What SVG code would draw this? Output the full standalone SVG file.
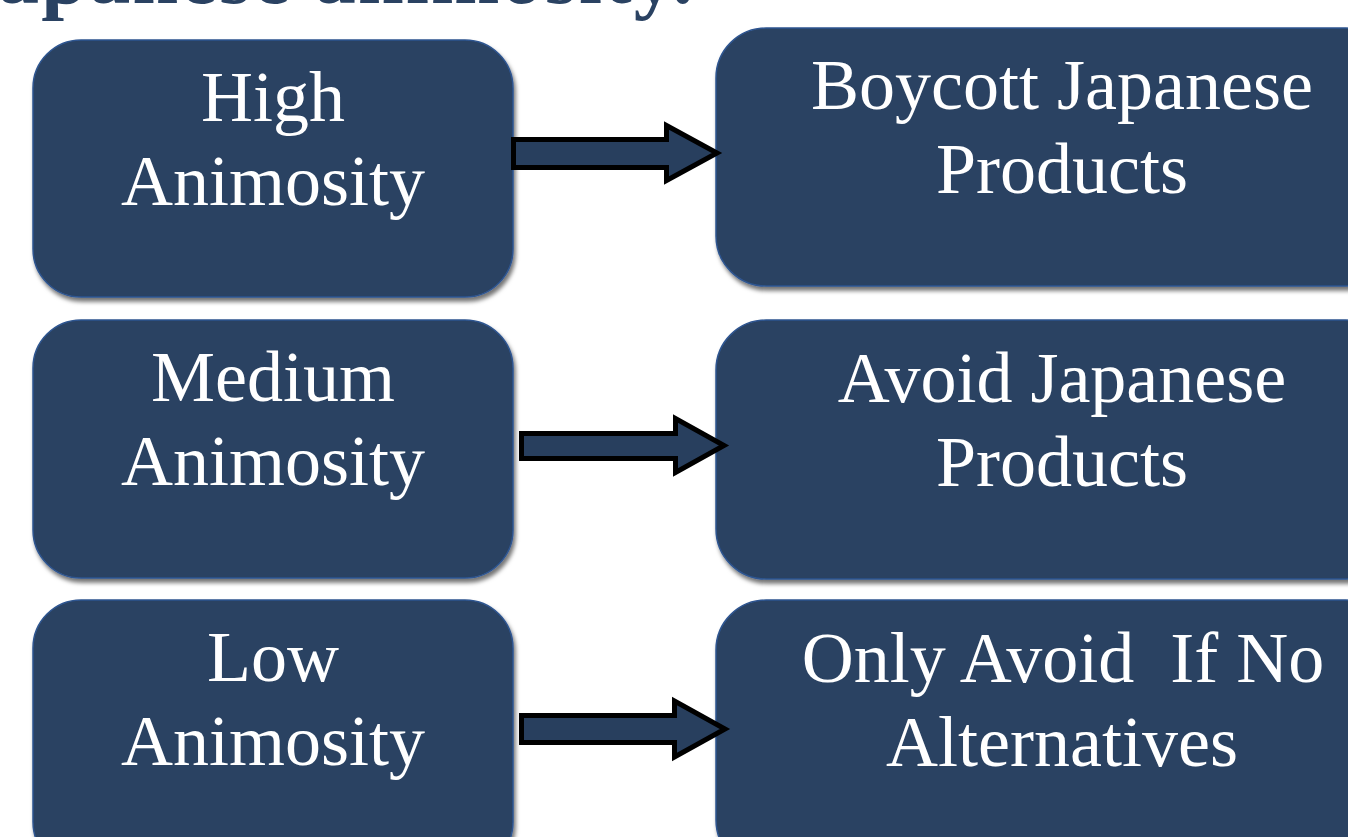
<svg xmlns="http://www.w3.org/2000/svg" width="1348" height="837" viewBox="0 0 1348 837">
<defs>
<filter id="sh" x="-5%" y="-5%" width="112%" height="115%">
<feDropShadow dx="2" dy="4" stdDeviation="2" flood-color="#000" flood-opacity="0.55"/>
</filter>
<style>
.box{fill:#2a4262;stroke:#2e5590;stroke-width:1.5;filter:url(#sh)}
.t{font-family:"Liberation Serif","DejaVu Serif",serif;font-size:72px;fill:#ffffff;text-anchor:middle;white-space:pre}
.title{font-family:"Liberation Serif","DejaVu Serif",serif;font-size:82px;font-weight:bold;fill:#2a4262}
.arr{fill:#283f5e;stroke:#000;stroke-width:5;stroke-linejoin:miter}
</style>
</defs>
<rect width="1348" height="837" fill="#ffffff"/>
<text class="title" x="-2" y="3" textLength="695" lengthAdjust="spacing">apanese animosity.</text>

<g id="high">
<rect class="box" x="33" y="40" width="480" height="257" rx="48"/>
<text class="t" x="273" y="121">High</text>
<text class="t" x="273" y="205">Animosity</text>
</g>
<g id="medium">
<rect class="box" x="33" y="320" width="480" height="258" rx="48"/>
<text class="t" x="273" y="401">Medium</text>
<text class="t" x="273" y="485">Animosity</text>
</g>
<g id="low">
<rect class="box" x="33" y="600" width="480" height="270" rx="48"/>
<text class="t" x="273" y="681">Low</text>
<text class="t" x="273" y="765">Animosity</text>
</g>

<g id="boycott">
<rect class="box" x="716" y="28" width="680" height="258" rx="50"/>
<text class="t" x="1062" y="109">Boycott Japanese</text>
<text class="t" x="1062" y="193">Products</text>
</g>
<g id="avoid">
<rect class="box" x="716" y="320" width="680" height="259" rx="50"/>
<text class="t" x="1062" y="402">Avoid Japanese</text>
<text class="t" x="1062" y="486">Products</text>
</g>
<g id="only">
<rect class="box" x="716" y="600" width="680" height="270" rx="50"/>
<text class="t" x="1063" y="682">Only Avoid  If No</text>
<text class="t" x="1062" y="766">Alternatives</text>
</g>

<g id="connectors">
<path class="arr" d="M513.5,139.5 H666.5 V125.5 L717,153 L666.5,180.5 V167.5 H513.5 Z"/>
<path class="arr" d="M521.5,433.5 H675.5 V418.5 L724,445.5 L675.5,472.5 V458.5 H521.5 Z"/>
<path class="arr" d="M521.5,715.5 H674.5 V701 L725,729 L674.5,757 V742.5 H521.5 Z"/>
</g>
</svg>
